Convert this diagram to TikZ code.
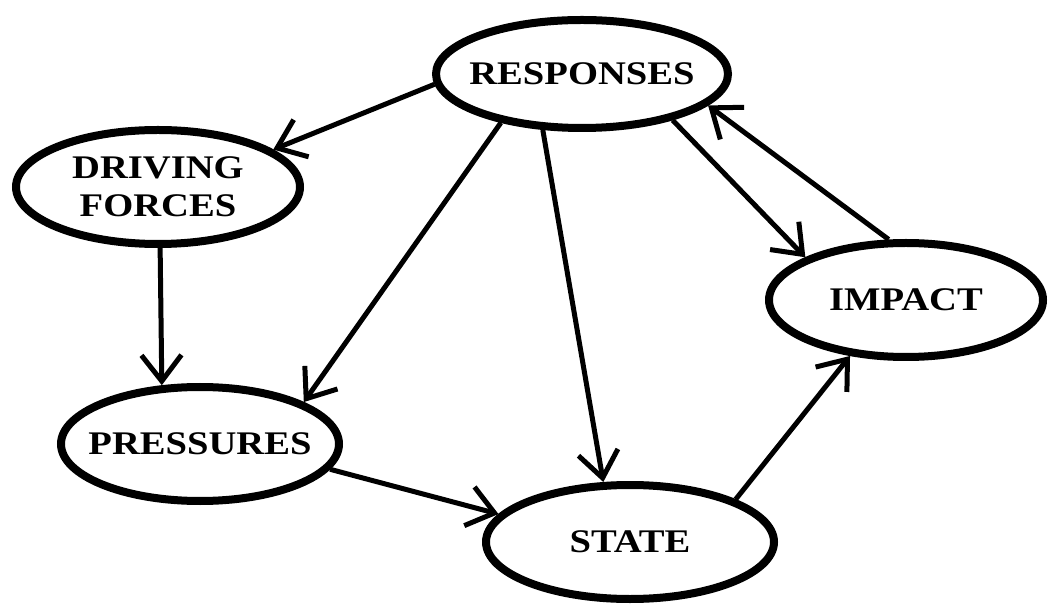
\documentclass[tikz,border=0pt]{standalone}
\usepackage{fontspec}
\newfontfamily\labelfont{Liberation Serif}[FakeStretch=1.17]
\usepackage{tikz}
\usetikzlibrary{arrows.meta, shapes.geometric}
\tikzset{
  stage/.style={draw, ellipse, line width=8pt, minimum width=284pt, minimum height=114pt, inner sep=0pt},
  stagetext/.style={font=\labelfont\bfseries\fontsize{33}{38}\selectfont, align=center},
  flow/.style={line width=5pt, -{Straight Barb[length=26pt, width=40pt, line width=5pt]}}
}

\begin{document}
\begin{tikzpicture}[x=1pt, y=1pt]
        \useasboundingbox (0,0) rectangle (1048,605);

        \node[stage, minimum width=292pt, minimum height=108pt, label={[stagetext]center:RESPONSES}] (resp) at (582,531) {};
        \node[stage, label={[stagetext]center:DRIVING\\FORCES}] (drv) at (158,418) {};
        \node[stage, minimum width=278pt, label={[stagetext]center:PRESSURES}] (pres) at (200,161) {};
        \node[stage, minimum width=288pt, label={[stagetext]center:STATE}] (state) at (630,63) {};
        \node[stage, minimum width=274pt, label={[stagetext]center:IMPACT}] (imp) at (906,305) {};

        \draw[flow] (resp.184) -- (drv.18);
        \draw[flow] (resp.211) -- (pres.22);
        \draw[flow] (resp.235) -- (state.114);
        \draw[flow] (resp.-27) -- (imp.157);
        \draw[flow] (imp.106) -- (resp.-14);
        \draw[flow] (drv.-88) -- (pres.123);
        \draw[flow] (pres.-11) -- (state.168);
        \draw[flow] (state.22) -- (imp.225);
    \end{tikzpicture}
\end{document}
